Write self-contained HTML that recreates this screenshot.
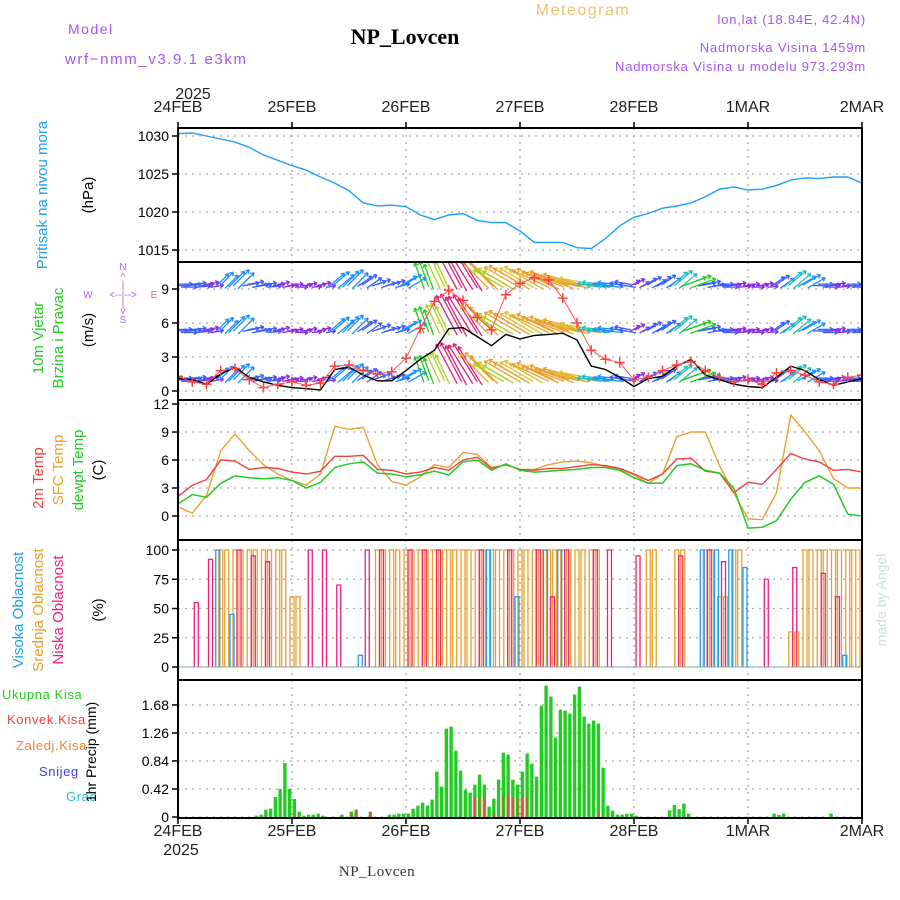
<!DOCTYPE html>
<html><head><meta charset="utf-8"><style>
html,body{margin:0;padding:0;background:#fff;}
svg{display:block;font-family:"Liberation Sans",sans-serif;}
</style></head><body>
<svg id="chart" width="900" height="900" viewBox="0 0 900 900" xmlns="http://www.w3.org/2000/svg">
<rect width="900" height="900" fill="#fff"/>
<text x="68" y="34" fill="#a855f0" font-size="14" letter-spacing="1.5">Model</text>
<text x="65" y="64" fill="#a855f0" font-size="15" letter-spacing="1.6">wrf−nmm_v3.9.1 e3km</text>
<text x="405" y="44" text-anchor="middle" fill="#000" font-size="22" font-weight="bold" font-family="Liberation Serif,serif">NP_Lovcen</text>
<text x="583" y="15" text-anchor="middle" fill="#f0c070" font-size="16" letter-spacing="1.5">Meteogram</text>
<text x="866" y="24" text-anchor="end" fill="#a855f0" font-size="13" letter-spacing="0.8">lon,lat (18.84E, 42.4N)</text>
<text x="866" y="52" text-anchor="end" fill="#a855f0" font-size="13" letter-spacing="0.8">Nadmorska Visina 1459m</text>
<text x="866" y="71" text-anchor="end" fill="#a855f0" font-size="13" letter-spacing="0.8">Nadmorska Visina u modelu 973.293m</text>
<text x="193" y="99" text-anchor="middle" font-size="16" fill="#222">2025</text>
<text x="181" y="855" text-anchor="middle" font-size="16" fill="#222">2025</text>
<text x="377" y="876" text-anchor="middle" font-size="15" fill="#333" font-family="Liberation Serif,serif" letter-spacing="0.5">NP_Lovcen</text>
<text transform="translate(886,600) rotate(-90)" text-anchor="middle" font-size="14" fill="#cfe0d4">made by Angel</text>

<text transform="translate(47,195) rotate(-90)" text-anchor="middle" font-size="15" fill="#1ea0f0">Pritisak na nivou mora</text>
<text transform="translate(93,195) rotate(-90)" text-anchor="middle" font-size="15" fill="#000">(hPa)</text>

<text transform="translate(43,338) rotate(-90)" text-anchor="middle" font-size="15" fill="#22cc22">10m Vjetar</text>
<text transform="translate(63,338) rotate(-90)" text-anchor="middle" font-size="15" fill="#22cc22">Brzina i Pravac</text>
<text transform="translate(93,330) rotate(-90)" text-anchor="middle" font-size="15" fill="#000">(m/s)</text>
<g fill="#b060f0" font-size="10" text-anchor="middle">
<text x="88" y="298">W</text>
<text x="123" y="298">&lt;--|--&gt;</text>
<text x="154" y="298">E</text>
<text x="123" y="270">N</text>
<text x="123" y="280">^</text>
<text x="123" y="288">|</text>
<text x="123" y="307">|</text>
<text x="123" y="314">v</text>
<text x="123" y="323">S</text>
</g>

<text transform="translate(43,478) rotate(-90)" text-anchor="middle" font-size="15" fill="#f04040">2m Temp</text>
<text transform="translate(63,470) rotate(-90)" text-anchor="middle" font-size="15" fill="#e8a030">SFC Temp</text>
<text transform="translate(83,470) rotate(-90)" text-anchor="middle" font-size="15" fill="#22cc22">dewpt Temp</text>
<text transform="translate(103,470) rotate(-90)" text-anchor="middle" font-size="15" fill="#000">(C)</text>

<text transform="translate(23,610) rotate(-90)" text-anchor="middle" font-size="15" fill="#1ea0f0">Visoka Oblacnost</text>
<text transform="translate(43,610) rotate(-90)" text-anchor="middle" font-size="15" fill="#e8a030">Srednja Oblacnost</text>
<text transform="translate(63,610) rotate(-90)" text-anchor="middle" font-size="15" fill="#f0207a">Niska Oblacnost</text>
<text transform="translate(103,610) rotate(-90)" text-anchor="middle" font-size="15" fill="#000">(%)</text>

<g font-size="13" letter-spacing="0.6">
<text x="2" y="699" fill="#22cc22">Ukupna Kisa</text>
<text x="7" y="724" fill="#f04040">Konvek.Kisa</text>
<text x="16" y="750" fill="#f08030">Zaledj.Kisa</text>
<text x="39" y="776" fill="#4040e0">Snijeg</text>
<text x="66" y="801" fill="#20c0d0">Grad</text>
</g>
<text transform="translate(96,752) rotate(-90)" text-anchor="middle" font-size="14" fill="#000">1hr Precip (mm)</text>
<g id="plot"></g>
</svg>
<script>
// ---------- DATA (3-hourly, 24FEB 00 .. 2MAR 00) ----------
const dayLabels = ["24FEB","25FEB","26FEB","27FEB","28FEB","1MAR","2MAR"];
const pressure = [1030.3,1030.4,1030.0,1029.6,1029.2,1028.5,1027.5,1026.8,1026.1,1025.5,1024.6,1023.8,1022.8,1021.2,1020.8,1020.9,1020.7,1019.6,1019.0,1019.6,1019.8,1018.9,1018.6,1018.6,1017.5,1016.0,1016.0,1016.0,1015.3,1015.2,1016.5,1018.2,1019.3,1019.8,1020.5,1020.8,1021.2,1022.0,1023.0,1023.3,1022.9,1023.0,1023.5,1024.2,1024.5,1024.4,1024.6,1024.6,1023.8];
const pressureTicks = [1015,1020,1025,1030];
const windSpeed = [1.1,1.0,0.6,1.5,2.1,1.2,0.8,0.5,0.3,0.2,0.1,1.9,2.1,1.4,0.9,0.9,1.8,2.8,3.6,5.5,5.6,4.8,4.0,5.0,4.6,4.9,5.0,5.1,4.5,2.2,1.9,1.2,0.4,1.1,1.3,2.2,2.8,1.4,1.0,0.6,0.4,0.3,1.2,2.2,1.8,1.0,0.5,0.8,1.1];
const windGust = [1.3,0.8,0.6,1.8,2.0,1.0,0.3,0.6,0.8,0.5,0.7,2.2,2.3,1.8,1.5,1.7,2.9,5.5,7.9,8.9,8.0,6.5,5.4,8.5,9.5,10.0,9.8,8.2,6.0,3.6,2.8,2.5,1.0,1.2,1.8,2.3,2.6,1.8,1.2,0.8,1.0,0.6,1.6,1.8,1.4,0.8,0.6,1.2,1.4];
const windDir = [0,5,10,45,45,10,5,10,0,5,10,40,45,35,20,15,30,110,115,118,122,135,150,150,150,155,160,165,170,175,175,170,30,30,35,40,20,10,0,5,0,5,35,40,30,0,5,0,0];
const windTicks = [0,3,6,9];
const windRows = [9.3,5.3,1.0];
const temp2m = [2.1,3.3,3.9,6.0,5.9,5.0,5.2,5.1,4.7,4.5,4.8,6.4,6.4,6.5,5.0,4.9,4.5,4.7,5.2,4.9,6.0,6.3,5.1,5.5,5.0,4.9,5.1,5.1,5.3,5.5,5.4,5.1,4.5,3.8,4.5,6.1,6.2,4.8,4.6,2.5,3.6,3.4,5.0,6.7,6.1,5.8,4.9,5.0,4.7];
const tempSfc = [1.0,0.3,2.2,7.0,8.8,7.0,5.5,4.5,3.8,3.3,4.5,9.6,9.3,9.5,5.5,3.7,3.3,4.2,5.5,5.2,6.8,6.6,5.2,5.5,5.0,5.0,5.5,5.8,5.9,5.7,5.3,5.0,4.4,3.5,4.5,8.5,9.0,9.0,5.4,2.5,-0.3,-0.4,2.5,10.8,9.0,7.0,4.0,3.0,3.0];
const tempDew = [1.3,2.3,2.0,3.5,4.3,4.1,4.0,4.1,3.8,3.0,3.6,5.2,5.6,5.8,4.6,4.5,4.2,4.4,4.8,4.4,5.8,6.0,4.9,5.6,4.9,4.7,4.8,4.9,5.0,5.2,5.2,4.9,4.1,3.5,3.5,5.4,5.6,4.9,4.6,3.0,-1.3,-1.2,-0.5,1.8,3.6,4.3,3.4,0.2,0.0];
const tempTicks = [0,3,6,9,12];
const cloudHigh = [0,0,0,100,45,0,0,0,0,0,0,0,0,10,0,0,0,0,0,0,0,0,100,0,60,0,100,100,0,0,0,0,0,0,0,0,0,100,100,100,85,0,0,0,0,0,0,10,0];
const cloudMid = [0,0,0,100,100,100,100,100,60,0,0,0,0,0,100,100,100,100,100,100,100,100,100,100,100,100,100,100,100,100,0,0,0,100,0,100,0,100,60,100,0,0,0,30,100,100,100,100,100];
const cloudLow = [0,55,92,0,100,95,90,0,0,100,100,70,0,100,100,0,100,100,100,0,0,100,0,100,0,100,60,100,0,100,100,0,95,0,0,95,0,100,90,0,0,75,0,85,0,80,60,0,55];
const cloudTicks = [0,25,50,75,100];
// hourly precipitation (mm), hours 0..143
const precipTotal = [0,0,0,0,0,0,0,0,0,0,0,0,0,0,0,0,0.02,0.035,0.11,0.125,0.3,0.42,0.81,0.42,0.27,0.08,0.02,0.035,0.035,0.05,0.02,0,0,0,0.035,0,0.08,0.11,0,0,0.08,0,0,0,0.035,0.035,0.05,0.05,0.05,0.125,0.17,0.215,0.17,0.26,0.68,0.455,1.325,1.355,0.995,0.695,0.41,0.365,0.485,0.635,0.485,0.155,0.275,0.56,0.965,0.935,0.56,0.485,0.68,0.95,0.8,0.605,1.67,1.97,1.805,1.19,1.61,1.595,1.55,1.835,1.955,1.505,1.40,1.445,1.40,0.74,0.17,0.095,0.035,0.035,0.05,0.05,0.02,0,0,0,0,0,0,0.1,0.18,0.12,0.2,0.05,0,0,0,0,0,0,0,0,0,0,0,0,0,0,0,0,0,0.05,0.03,0.05,0,0,0,0,0,0,0,0,0,0.05,0,0];
const precipConv = [0,0,0,0,0,0,0,0,0,0,0,0,0,0,0,0,0,0,0.03,0,0,0,0,0,0.01,0,0,0,0,0,0,0,0,0,0,0,0.07,0.09,0,0,0.07,0,0,0,0,0,0,0,0,0,0,0,0,0,0,0,0,0,0,0,0,0,0.3,0.3,0.28,0,0.05,0,0.33,0.32,0.3,0.28,0.3,0.3,0,0,0,0,0,0,0,0,0,0,0,0,0,0,0.05,0,0,0,0,0,0,0,0,0,0,0,0,0,0,0,0,0,0,0,0,0,0,0,0,0,0,0,0,0,0,0,0,0,0,0,0,0,0,0,0,0,0,0,0,0,0,0,0,0];
const precipTicks = [0,0.42,0.84,1.26,1.68];

// ---------- LAYOUT ----------
const NS='http://www.w3.org/2000/svg';
const plot=document.getElementById('plot');
const X0=178, X1=862, HOURS=144;
const xH = h => X0 + (X1-X0)*h/HOURS;
const xI = i => xH(i*3);
const panels = {
  p:{top:128,bot:262,y:v=>250-(v-1015)*7.6},
  w:{top:262,bot:400,y:v=>391-v*11.33},
  t:{top:400,bot:540,y:v=>516-v*9.33},
  c:{top:540,bot:680,y:v=>667-v*1.17},
  r:{top:680,bot:818,y:v=>817-v*66.7}
};
function mk(tag,attrs,parent){const e=document.createElementNS(NS,tag);for(const k in attrs)e.setAttribute(k,attrs[k]);(parent||plot).appendChild(e);return e;}
const defs=mk('defs',{});
for(const k in panels){const P=panels[k];const cp=mk('clipPath',{id:'clip-'+k},defs);mk('rect',{x:X0,y:P.top,width:X1-X0,height:P.bot-P.top},cp);}

function grid(P,ticks,fmt,name){
  const g=mk('g',{});
  
  
  for(let d=1;d<dayLabels.length-1;d++){
    const x=xH(d*24);
    const l=mk('line',{x1:x,x2:x,y1:P.top,y2:P.bot,stroke:'#aaa','stroke-width':1.3,'stroke-dasharray':'2,5'},g);
    
    
  }
  ticks.forEach(v=>{
    const y=P.y(v);
    const l=mk('line',{x1:X0,x2:X1,y1:y,y2:y,stroke:'#aaa','stroke-width':1.3,'stroke-dasharray':'2,5'},g);
    
    
    const tk=mk('line',{x1:X0-6,x2:X0,y1:y,y2:y,stroke:'#000','stroke-width':1.5},g);
    
    
    const t=mk('text',{x:X0-9,y:y+5,'text-anchor':'end','font-size':14,fill:'#000'},g);
    t.textContent=fmt(v);
    
    
  });
}
function line(P,k,vals,color,name,w){
  const d=vals.map((v,i)=>(i?'L':'M')+xI(i).toFixed(1)+','+P.y(v).toFixed(1)).join('');
  const p=mk('path',{d:d,fill:'none',stroke:color,'stroke-width':w||1.3,'clip-path':'url(#clip-'+k+')'});
  
  
  return p;
}

// pressure
grid(panels.p,pressureTicks,v=>v,'pressure');
line(panels.p,'p',pressure,'#1ea0f0','pressure-line',1.4);

// wind
grid(panels.w,windTicks,v=>v,'wind');
function windColor(s){
  if(s<0.8)return '#8a2be2'; if(s<1.5)return '#3a5fff'; if(s<2.2)return '#1e90ff';
  if(s<2.8)return '#20c0c0'; if(s<3.5)return '#22cc22'; if(s<4.2)return '#b0d020';
  if(s<4.8)return '#e0c030'; if(s<5.3)return '#e8a030'; return '#e0207a';
}
const wg=mk('g',{'clip-path':'url(#clip-w)'});


windRows.forEach(rv=>{
  windSpeed.forEach((s,i)=>{
    const c=windColor(s);
    const len=9+s*6.5, a=windDir[i]*Math.PI/180;
    for(let k=0;k<3;k++){
      if(i===windSpeed.length-1 && k>0) break;
      const x=xI(i)+k*4.75-len*0.4*Math.cos(a), y=panels.w.y(rv)+len*0.1*Math.sin(a)+(k===1?-1.5:(k===2?1.5:0));
      const x2=x+len*Math.cos(a), y2=y-len*Math.sin(a);
      const ar=mk('path',{d:`M${x},${y}L${x2},${y2}M${x2},${y2}L${x2-4*Math.cos(a-0.55)},${y2+4*Math.sin(a-0.55)}M${x2},${y2}L${x2-4*Math.cos(a+0.55)},${y2+4*Math.sin(a+0.55)}`,stroke:c,'stroke-width':1.3,fill:'none'},wg);
      
      
    }
  });
});
line(panels.w,'w',windSpeed,'#000','wind-speed-line',1.4);
line(panels.w,'w',windGust,'#ff5050','wind-gust-line',1.0);
windGust.forEach((v,i)=>{
  const x=xI(i), y=panels.w.y(v);
  const m=mk('path',{d:`M${x-5},${y}H${x+5}M${x},${y-5}V${y+5}`,stroke:'#ff4040','stroke-width':1.5,'clip-path':'url(#clip-w)'});
  
  
});

// temperature
grid(panels.t,tempTicks,v=>v,'temp');
line(panels.t,'t',tempSfc,'#e8a030','sfc-temp-line',1.4);
line(panels.t,'t',temp2m,'#f04040','temp-2m-line',1.4);
line(panels.t,'t',tempDew,'#22cc22','dewpoint-line',1.5);

// clouds
grid(panels.c,cloudTicks,v=>v,'cloud');
function bars(arr,color,off,name){
  arr.forEach((v,i)=>{
    if(v<=0)return;
    const x=xI(i)+off, y=panels.c.y(v), yb=panels.c.y(0);
    const b=mk('path',{d:`M${x-2},${yb}V${y}H${x+2}V${yb}`,fill:'none',stroke:color,'stroke-width':1.3,'clip-path':'url(#clip-c)'});
    
    
  });
}
bars(cloudMid,'#e8a030',0,'cloud-mid-bar');
bars(cloudMid,'#e8a030',6,'cloud-mid-bar');
bars(cloudHigh,'#1ea0f0',-3,'cloud-high-bar');
bars(cloudLow,'#f0207a',4,'cloud-low-bar');
const cb=mk('line',{x1:X0,x2:X1,y1:panels.c.y(0),y2:panels.c.y(0),stroke:'#7fb0c0','stroke-width':1});



// precip
grid(panels.r,precipTicks,v=>v===0?'0':v.toFixed(2),'precip');
precipTotal.forEach((v,h)=>{
  if(v<=0)return;
  const x=xH(h+0.5), y=panels.r.y(v);
  const b=mk('rect',{x:x-1.7,y:y,width:3.4,height:panels.r.y(0)-y+1,fill:'#22cc22','clip-path':'url(#clip-r)'});
  
  
});
precipConv.forEach((v,h)=>{
  if(v<=0)return;
  const x=xH(h+0.5), y=panels.r.y(v);
  const b=mk('rect',{x:x-0.8,y:y,width:1.6,height:panels.r.y(0)-y+1,fill:'#ff4040','clip-path':'url(#clip-r)'});
  
  
});

// panel frames
for(const k in panels){const P=panels[k];
  const f=mk('rect',{x:X0,y:P.top,width:X1-X0,height:P.bot-P.top,fill:'none',stroke:'#000','stroke-width':2});
  
  
}
// time axis labels + ticks
dayLabels.forEach((lab,d)=>{
  const x=xH(d*24);
  ['top','bottom'].forEach(pos=>{
    const t=mk('text',{x:x,y:pos==='top'?112:836,'text-anchor':'middle','font-size':16,fill:'#222'});
    t.textContent=lab;
    
    
    const tk=mk('line',{x1:x,x2:x,y1:pos==='top'?122:818,y2:pos==='top'?128:824,stroke:'#000','stroke-width':1.5});
    
    
  });
});
</script>
</body></html>
